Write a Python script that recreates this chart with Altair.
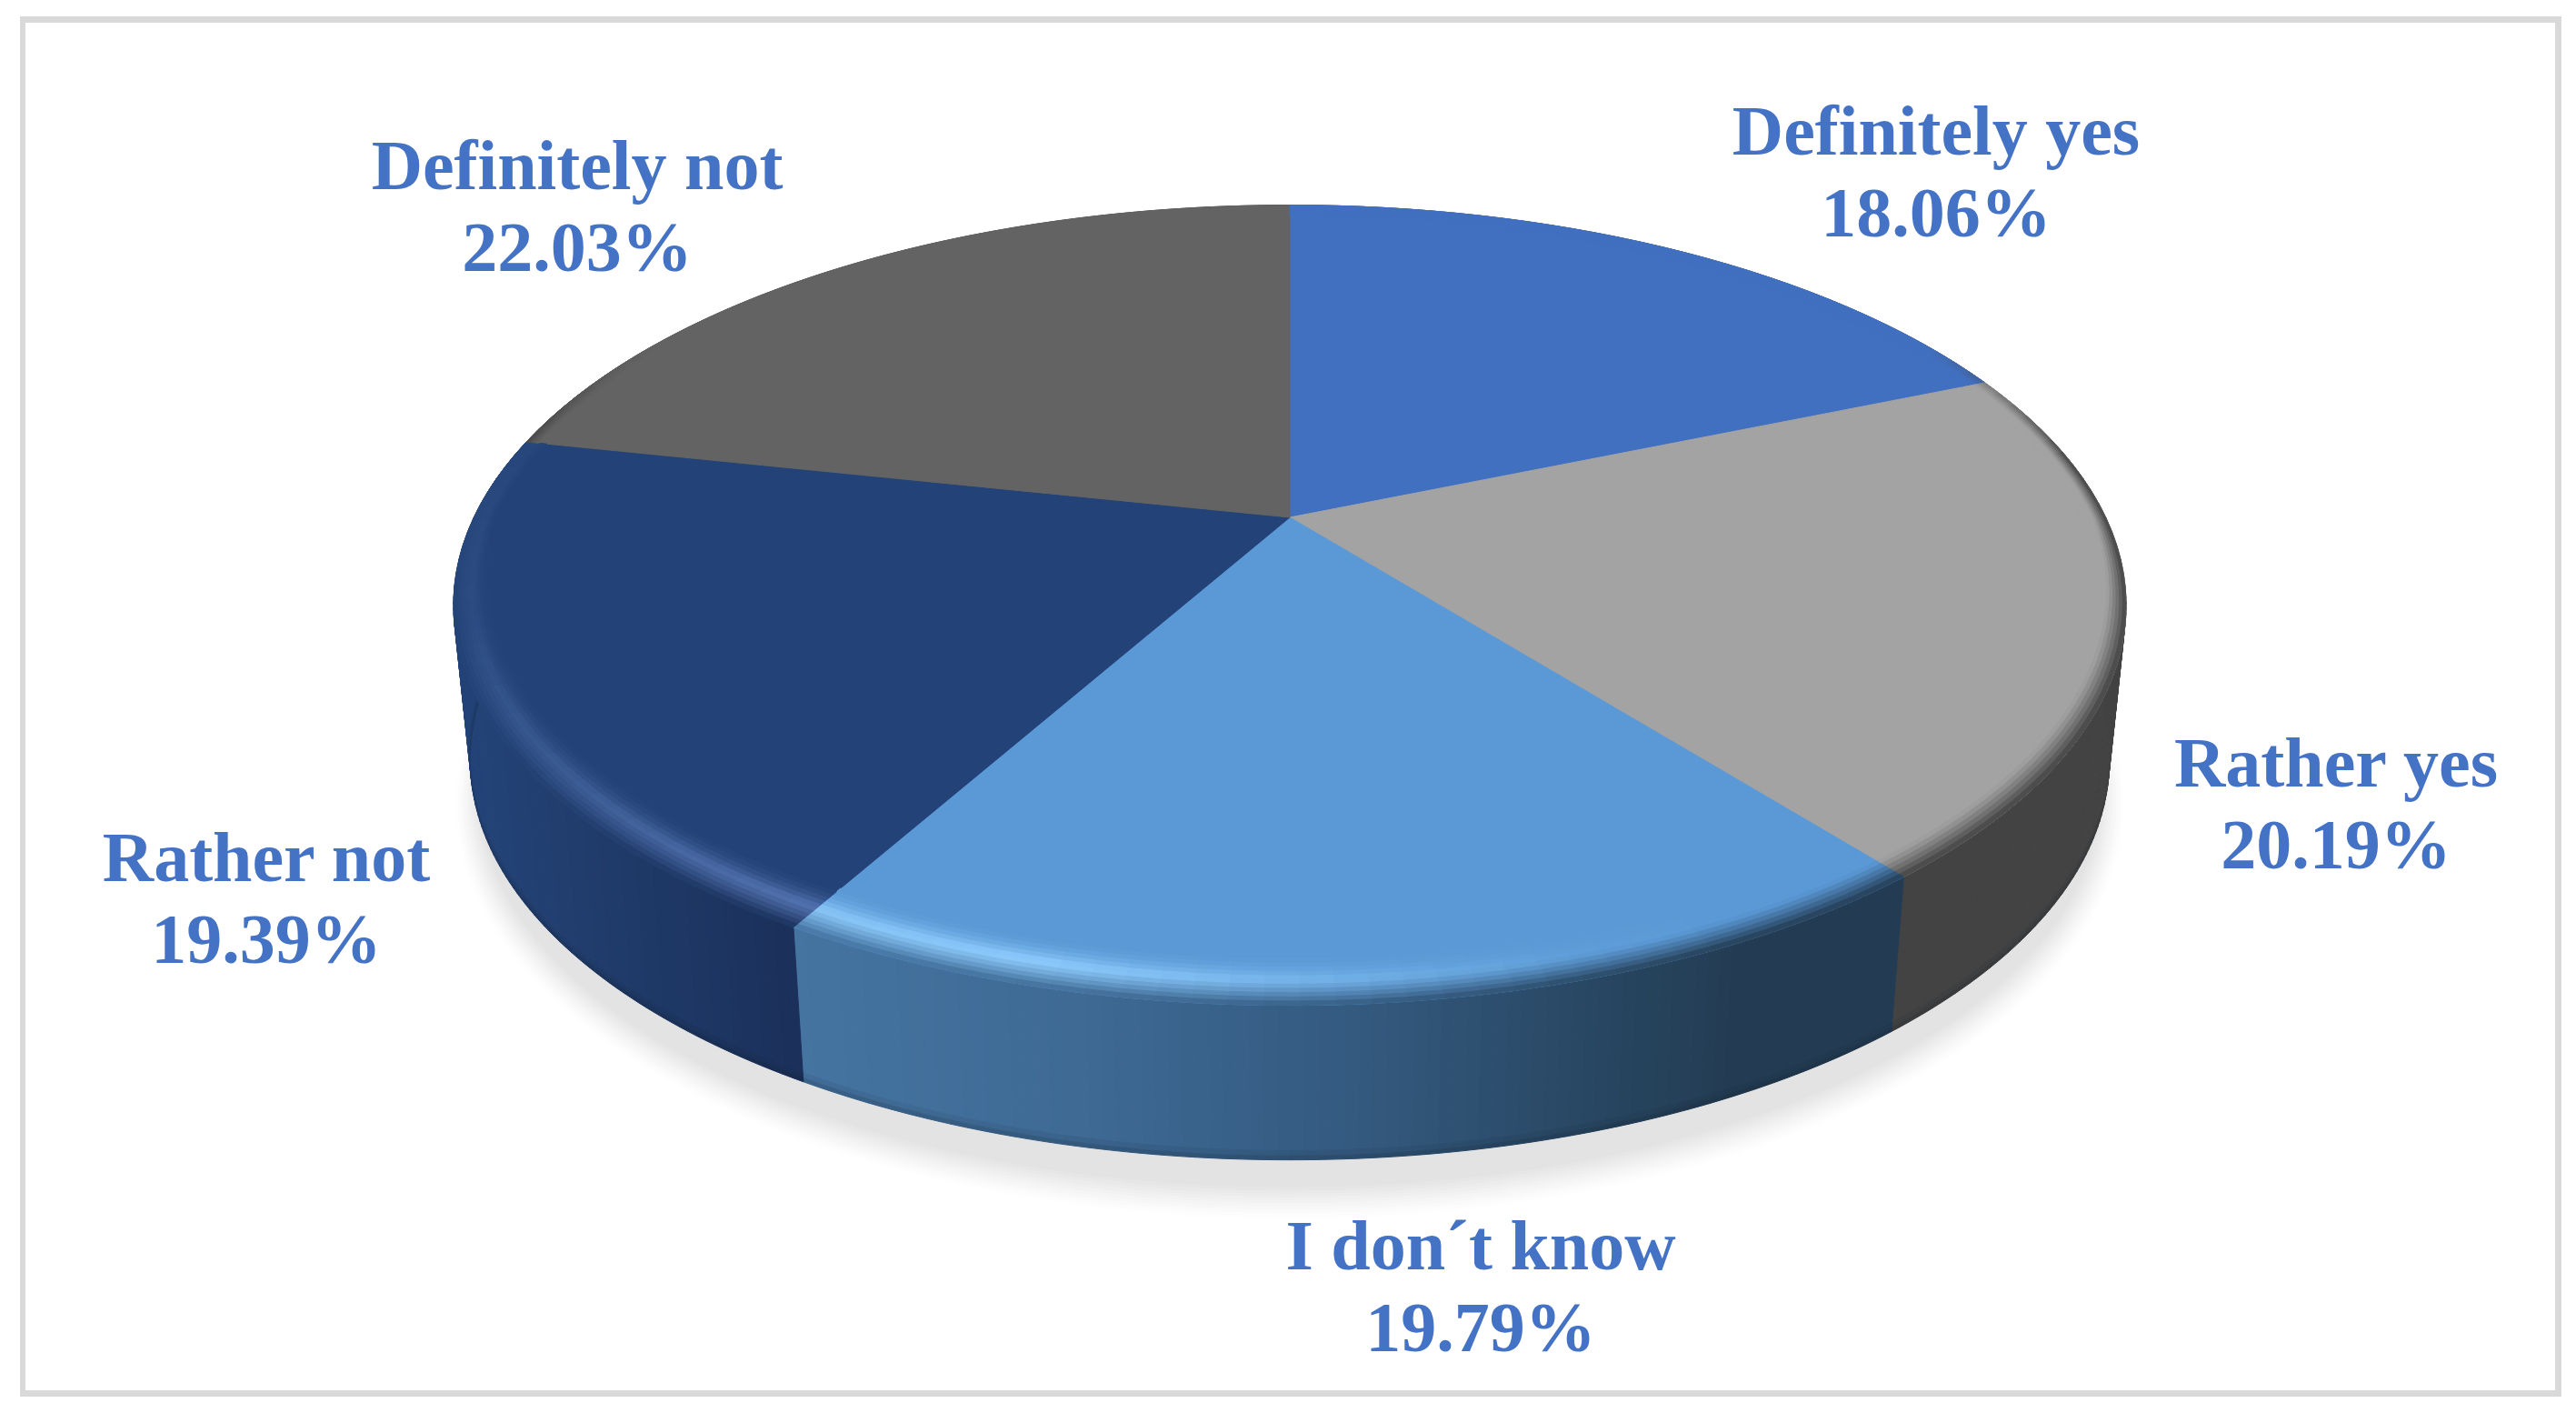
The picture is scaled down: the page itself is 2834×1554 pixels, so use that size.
import math
import altair as alt

# ---- chart values -------------------------------------------------------
CATEGORIES = ["Definitely yes", "Rather yes", "I don´t know", "Rather not", "Definitely not"]
SHARES = [18.06, 20.19, 19.79, 19.39, 22.03]

# ---- styles -------------------------------------------------------------
FACE_COLORS = ["#4270C0", "#A3A3A3", "#5B99D6", "#234277", "#636363"]
TEXT_COLOR = "#4472C4"
BORDER_COLOR = "#D9D9D9"

# ---- label placement (centre x, first baseline y, in chart pixels) -------
LABEL_X = [2122, 2562, 1621, 285, 627]
LABEL_Y = [162, 857, 1388, 961, 200]
LINE_STEP = 90
FONT_SIZE = 78

# ---- layout of the tilted disc ------------------------------------------
W, H = 2818, 1538
CX, CY = 1411.0, 561.0          # apex of the slices
A, B, K = 897.6, 418.8, 0.2196  # perspective circle
FLOOR_CY, FLOOR_SCALE = 731.0, 0.98
# small per-boundary viewing correction, degrees
EDGE_SHIFT = [0.0, 2.1, 3.0, -0.6, 1.7, 0.0]


def hex2rgb(c):
    return [int(c[i:i + 2], 16) for i in (1, 3, 5)]


def rgb2hex(v):
    return "#" + "".join(f"{max(0, min(255, round(x))):02x}" for x in v)


def mix(c1, c2, t):
    t = max(0.0, min(1.0, t))
    a, b = hex2rgb(c1), hex2rgb(c2)
    return rgb2hex([a[i] + (b[i] - a[i]) * t for i in range(3)])


def ramp(stops, t):
    if t <= stops[0][0]:
        return stops[0][1]
    for (t0, v0), (t1, v1) in zip(stops, stops[1:]):
        if t <= t1:
            u = (t - t0) / (t1 - t0)
            if isinstance(v0, str):
                return mix(v0, v1, u)
            return v0 + (v1 - v0) * u
    return stops[-1][1]


def top_pt(phi, s=1.0):
    """Rim point; s < 1 moves it along the radius towards the apex."""
    x, y = math.sin(phi), math.cos(phi)
    den = 1 + K * y
    px, py = CX + A * x / den, CY - B * y / den
    d = (0.032 + 0.072 * max(0.0, -y)) * (1 - s)
    return [px + (CX - px) * d, py + (CY - py) * d]


def floor_pt(phi, grow=0.0, dy=0.0):
    x, y = math.sin(phi), math.cos(phi)
    den = 1 + K * y
    return [CX + (FLOOR_SCALE * A + grow) * x / den,
            FLOOR_CY + dy - (B + grow) * y / den]


def lerp(p, q, t):
    return [p[0] + (q[0] - p[0]) * t, p[1] + (q[1] - p[1]) * t]


def poly(points, color):
    ring = [list(p) for p in points]
    ring.append(ring[0])
    return {"type": "Feature", "color": color,
            "geometry": {"type": "Polygon", "coordinates": [ring]}}


def wall_color(i, phi):
    X = top_pt(phi)[0]
    if i == 2:
        t = (X - 865) / (2090 - 865)
        return ramp([(0, "#4574A1"), (0.25, "#3E6A94"), (0.5, "#345A80"),
                     (0.72, "#284762"), (0.85, "#233C53"), (1, "#233C53")], t)
    if i == 3:
        t = (X - 500) / (865 - 500)
        return ramp([(0, "#234377"), (0.5, "#1F3A68"), (1, "#1B305B")], t)
    return "#434343"


def highlight(i, phi):
    X = top_pt(phi)[0]
    deg = math.degrees(phi) % 360
    if i == 2:
        t = (X - 865) / (2090 - 865)
        return "#90CEFF", ramp([(0, 0.85), (0.2, 1.0), (0.45, 0.55), (0.7, 0.12), (0.85, 0.0), (1, 0.0)], t)
    if i == 3:
        return "#5273B0", ramp([(211, 1.0), (235, 0.5), (255, 0.22), (285, 0.08)], deg)
    return "#FFFFFF", 0.0


def wall_weight(i, phi):
    y = math.cos(phi)
    if i == 3:
        return ramp([(-1, 1.0), (-0.25, 1.0), (0.08, 0.0), (1, 0.0)], y)
    return ramp([(-1, 1.0), (0.15, 1.0), (0.5, 0.0), (1, 0.0)], y)


def band_color(i, phi, s):
    face = FACE_COLORS[i]
    hi, strength = highlight(i, phi)
    peak = mix(face, hi, strength)
    if s <= 0.5:
        return mix(face, peak, (s / 0.5) ** 2.0)
    wall = mix(peak, wall_color(i, phi), wall_weight(i, phi))
    return mix(peak, wall, ((s - 0.5) / 0.5) ** 1.2)


# ---- slice boundaries, from the shares ----------------------------------
total = sum(SHARES)
edges = [0.0]
acc = 0.0
for n, v in enumerate(SHARES):
    acc += v
    edges.append(2 * math.pi * acc / total + math.radians(EDGE_SHIFT[n + 1]))

STEP = math.radians(2.0)
WALL_STEP = math.radians(0.75)
BAND = 12

features = []
# shadow: stack of floor outlines, soft outer to solid inner
circle = [2 * math.pi * j / 180 for j in range(180)]
for n in range(12):
    u = n / 11
    grow = 18 - 30 * u
    features.append(poly([floor_pt(p, grow, 45) for p in circle],
                         mix("#FFFFFF", "#E3E3E3", u ** 1.3)))

# side wall
for i in range(5):
    a0, a1 = edges[i], edges[i + 1]
    n = max(1, int((a1 - a0) / WALL_STEP))
    for j in range(n):
        p0 = a0 + (a1 - a0) * j / n
        p1 = a0 + (a1 - a0) * (j + 1) / n
        mid = (p0 + p1) / 2
        base = wall_color(i, mid)
        for t0, t1, shade in [(0, 0.94, 0.0), (0.94, 0.975, 0.08), (0.975, 1, 0.2)]:
            pts = [lerp(top_pt(p0), floor_pt(p0), t0), lerp(top_pt(p1), floor_pt(p1), t0),
                   lerp(top_pt(p1), floor_pt(p1), t1), lerp(top_pt(p0), floor_pt(p0), t1)]
            features.append(poly(pts, mix(base, "#0A1420", shade)))

# top faces
for i in range(5):
    a0, a1 = edges[i], edges[i + 1]
    n = max(2, int((a1 - a0) / STEP))
    arc = [top_pt(a0 + (a1 - a0) * j / n) for j in range(n + 1)]
    features.append(poly([[CX, CY]] + arc, FACE_COLORS[i]))

# rounded rim on the visible edge of each face
for i in range(5):
    a0, a1 = edges[i], edges[i + 1]
    n = max(2, int((a1 - a0) / STEP))
    for j in range(n):
        p0 = a0 + (a1 - a0) * j / n
        p1 = a0 + (a1 - a0) * (j + 1) / n
        mid = (p0 + p1) / 2
        for b in range(BAND):
            s0, s1 = b / BAND, (b + 1) / BAND
            col = band_color(i, mid, (s0 + s1) / 2)
            if col == FACE_COLORS[i]:
                continue
            features.append(poly([top_pt(p0, s0), top_pt(p1, s0), top_pt(p1, s1), top_pt(p0, s1)], col))

# ---- frame --------------------------------------------------------------
outer = [[14, 10], [2810, 10], [2810, 1528], [14, 1528], [14, 10]]
inner = [[20, 17], [20, 1521], [2803, 1521], [2803, 17], [20, 17]]
page = poly([[0, 0], [W, 0], [W, H], [0, H]], "#FFFFFF")
border = {"type": "Feature", "color": BORDER_COLOR,
          "geometry": {"type": "Polygon", "coordinates": [outer, inner]}}

labels = []
for name, v, x, y in zip(CATEGORIES, SHARES, LABEL_X, LABEL_Y):
    labels.append({"text": name, "lon": x, "lat": y})
    labels.append({"text": f"{v:.2f}%", "lon": x, "lat": y + LINE_STEP})

proj = alt.Projection(type="identity", scale=1, translate=[0, 0])

backdrop = alt.Chart(alt.Data(values=[page, border])).mark_geoshape(strokeWidth=0).encode(
    fill=alt.Fill("color:N", scale=None)
).project(**proj.to_dict())

disc = alt.Chart(alt.Data(values=features)).mark_geoshape(strokeWidth=1.0).encode(
    fill=alt.Fill("color:N", scale=None),
    stroke=alt.Stroke("color:N", scale=None),
).project(**proj.to_dict())

text = alt.Chart(alt.Data(values=labels)).mark_text(
    font="Liberation Serif", fontWeight="bold", fontSize=FONT_SIZE,
    color=TEXT_COLOR, align="center", baseline="alphabetic",
).encode(
    longitude=alt.Longitude("lon:Q"),
    latitude=alt.Latitude("lat:Q"),
    text=alt.Text("text:N"),
).project(**proj.to_dict())

chart = alt.layer(backdrop, disc, text).properties(
    width=W, height=H, padding=0, background="#FFFFFF",
    autosize=alt.AutoSizeParams(type="none"),
).configure_view(stroke=None)

chart.save("out.html", embed_options={"renderer": "svg", "actions": False})
